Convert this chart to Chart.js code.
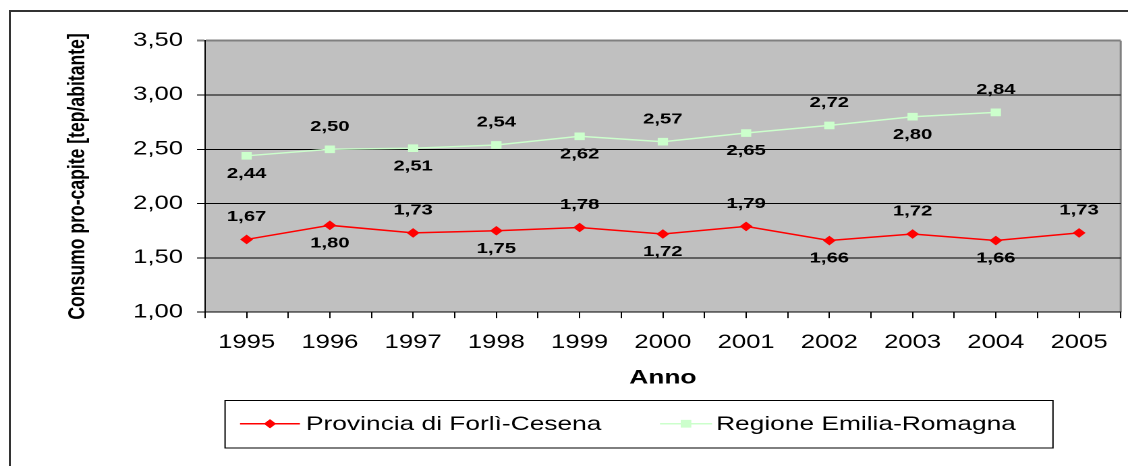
<!DOCTYPE html>
<html><head><meta charset="utf-8">
<script src="https://cdn.jsdelivr.net/npm/chart.js@4/dist/chart.umd.min.js"></script>
<style>
html,body{margin:0;padding:0;background:#fff;width:1128px;height:466px;overflow:hidden;}
#frame{position:absolute;left:9px;top:10px;width:1200px;height:500px;border-left:2px solid #333;border-top:2px solid #333;}
#wrap{position:absolute;left:0;top:0;width:836px;height:466px;transform:scaleX(1.349282);transform-origin:0 0;}
</style></head><body>
<div id="frame"></div>
<div id="wrap"><canvas id="c" width="836" height="466"></canvas></div>
<script>
// ---- data ----
const years = ['1995','1996','1997','1998','1999','2000','2001','2002','2003','2004','2005'];
const provincia = [1.67, 1.80, 1.73, 1.75, 1.78, 1.72, 1.79, 1.66, 1.72, 1.66, 1.73];
const regione = [2.44, 2.50, 2.51, 2.54, 2.62, 2.57, 2.65, 2.72, 2.80, 2.84, null];
const seriesNames = ['Provincia di Forlì-Cesena', 'Regione Emilia-Romagna'];
const yTicks = [1.00, 1.50, 2.00, 2.50, 3.00, 3.50];
const xTitle = 'Anno';
const yTitle = 'Consumo pro-capite [tep/abitante]';

const FONT = "'Liberation Sans', Arial, sans-serif";
const RED = '#FF0000', GREEN = '#CCFFCC';
const fmt = v => v.toFixed(2).replace('.', ',');

const plotBg = {
  id: 'plotBg',
  beforeDraw(chart) {
    const {ctx, chartArea: a} = chart;
    ctx.save();
    ctx.fillStyle = '#C0C0C0';
    ctx.fillRect(a.left, a.top, a.right - a.left, a.bottom - a.top);
    ctx.strokeStyle = '#808080';
    ctx.lineWidth = 1.5;
    ctx.beginPath();
    ctx.moveTo(a.right, a.top); ctx.lineTo(a.right, a.bottom);
    ctx.stroke();
    ctx.restore();
  }
};

const valueLabels = {
  id: 'valueLabels',
  afterDatasetsDraw(chart) {
    const ctx = chart.ctx;
    ctx.save();
    ctx.font = 'bold 15px ' + FONT;
    ctx.fillStyle = '#000';
    ctx.textAlign = 'center';
    ctx.textBaseline = 'middle';
    chart.data.datasets.forEach((ds, di) => {
      const meta = chart.getDatasetMeta(di);
      meta.data.forEach((pt, i) => {
        const v = ds.data[i];
        if (v == null) return;
        const above = (di === 0) ? (i % 2 === 0) : (i % 2 === 1);
        ctx.fillText(fmt(v), pt.x, pt.y + (above ? -22.5 : 18));
      });
    });
    ctx.restore();
  }
};

const boxLegend = {
  id: 'boxLegend',
  afterDraw(chart) {
    const ctx = chart.ctx;
    const L = 166.8, R = 780.4, T = 400, B = 447.5, cy = (T + B) / 2;
    ctx.save();
    ctx.fillStyle = '#fff';
    ctx.fillRect(L, T, R - L, B - T);
    ctx.strokeStyle = '#000';
    ctx.lineWidth = 1;
    ctx.strokeRect(L, T + 0.5, R - L, B - T);
    const items = [
      {x1: 177.9, x2: 222.3, mx: 200.1, tx: 226.8, color: RED, style: 'rectRot', r: 4.5, w: 1.5},
      {x1: 489.1, x2: 527.7, mx: 508.4, tx: 530.7, color: GREEN, style: 'rect', r: 5.4, w: 1.5}
    ];
    ctx.font = '19.5px ' + FONT;
    ctx.textBaseline = 'middle';
    ctx.textAlign = 'left';
    items.forEach((it, k) => {
      ctx.strokeStyle = it.color; ctx.lineWidth = it.w;
      ctx.beginPath(); ctx.moveTo(it.x1, cy); ctx.lineTo(it.x2, cy); ctx.stroke();
      ctx.fillStyle = it.color;
      Chart.helpers.drawPoint(ctx, {pointStyle: it.style, radius: it.r, borderWidth: 0}, it.mx, cy);
      ctx.fill();
      ctx.fillStyle = '#000';
      ctx.fillText(seriesNames[k], it.tx, cy + 1);
    });
    ctx.restore();
  }
};

new Chart(document.getElementById('c'), {
  type: 'line',
  data: {
    labels: years,
    datasets: [
      {label: seriesNames[0], data: provincia, borderColor: RED, backgroundColor: RED, borderWidth: 1.5,
       pointStyle: 'rectRot', pointRadius: 4.8, pointBorderWidth: 0, pointBackgroundColor: RED, tension: 0},
      {label: seriesNames[1], data: regione, borderColor: GREEN, backgroundColor: GREEN, borderWidth: 1.5,
       pointStyle: 'rect', pointRadius: 5.4, pointBorderWidth: 0, pointBackgroundColor: GREEN, tension: 0}
    ]
  },
  options: {
    responsive: false,
    animation: false,
    devicePixelRatio: 2,
    events: [],
    layout: {padding: {left: 0, right: 1.5, top: 40.7, bottom: 74}},
    plugins: {legend: {display: false}, tooltip: {enabled: false}},
    scales: {
      x: {
        type: 'category', offset: true, weight: 1,
        grid: {offset: false, drawOnChartArea: false, drawTicks: true, tickLength: 5.9, color: '#000'},
        border: {display: true, color: '#000', width: 1},
        ticks: {padding: 13.4, color: '#000', font: {family: FONT, size: 19}, maxRotation: 0, autoSkip: false},
        title: {display: true, text: xTitle, color: '#000', font: {family: FONT, size: 19.5, weight: 'bold'}, padding: {top: 0, bottom: 2.3}},
        afterFit(s) { s.height = 79.8; s.paddingLeft = 0; s.paddingRight = 0; }
      },
      x2: {
        type: 'category', offset: true, weight: 0, position: 'bottom',
        grid: {offset: true, drawOnChartArea: false, drawTicks: true, tickLength: 5.9, color: '#000'},
        border: {display: false},
        ticks: {display: false},
        afterFit(s) { s.height = 0; s.paddingLeft = 0; s.paddingRight = 0; }
      },
      y: {
        min: 1, max: 3.5,
        afterBuildTicks(s) { s.ticks = yTicks.map(v => ({value: v})); },
        grid: {
          drawTicks: true, tickLength: 5.9,
          color: c => (c.tick && c.tick.value === 3.5) ? '#808080' : '#000',
          lineWidth: c => (c.tick && c.tick.value === 3.5) ? 2 : 1
        },
        border: {display: true, color: '#000', width: 1},
        ticks: {padding: 10.4, color: '#000', font: {family: FONT, size: 19}, callback: v => fmt(v)},
        title: {display: true, text: yTitle, color: '#000', font: {family: FONT, size: 17.6, weight: 'bold'}, padding: {top: 47.3, bottom: 0}},
        afterFit(s) { s.width = 151.93; }
      }
    }
  },
  plugins: [plotBg, valueLabels, boxLegend]
});
</script>
</body></html>
